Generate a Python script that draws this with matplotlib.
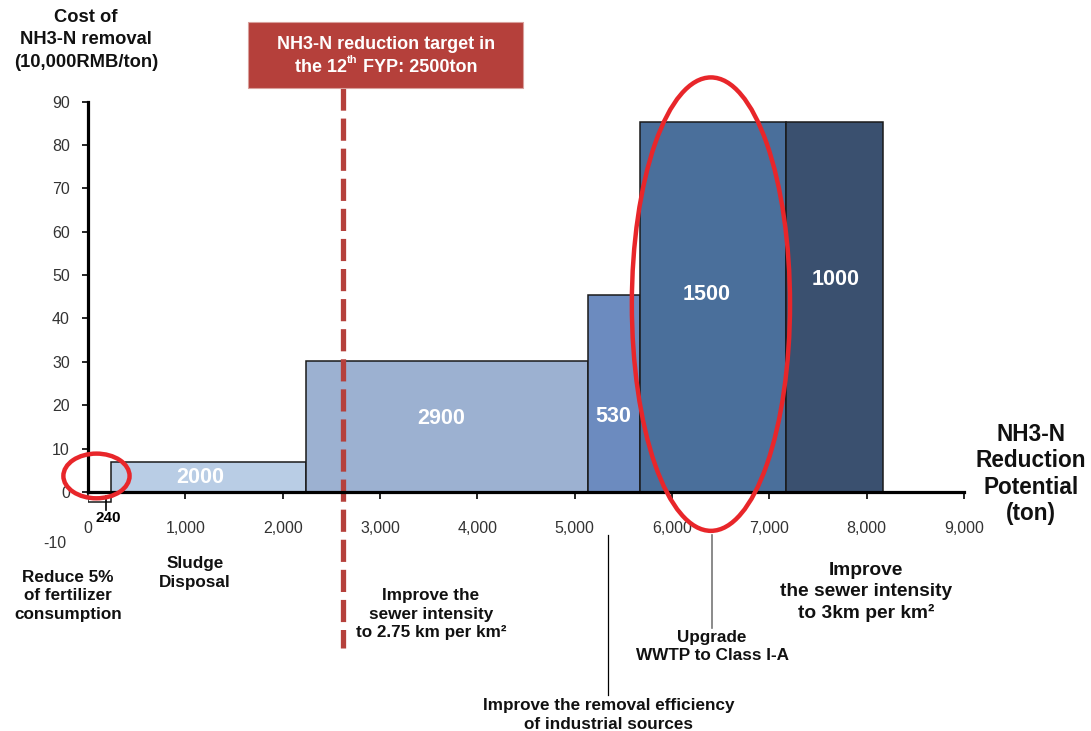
import matplotlib
matplotlib.use("Agg")
import matplotlib.pyplot as plt
from matplotlib.patches import Rectangle, Ellipse
import numpy as np

plt.rcParams['font.family'] = ['Liberation Sans', 'DejaVu Sans']

# ---- data ----
widths = [240, 2000, 2900, 530, 1500, 1000]          # reduction potential (ton)
costs = [-2.2, 6.9, 30.2, 45.3, 85.3, 85.3]           # cost (10,000 RMB/ton)
bar_labels = ["240", "2000", "2900", "530", "1500", "1000"]
xticks = [0, 1000, 2000, 3000, 4000, 5000, 6000, 7000, 8000, 9000]
xticklabels = ["0", "1,000", "2,000", "3,000", "4,000", "5,000", "6,000", "7,000", "8,000", "9,000"]
yticks = [0, 10, 20, 30, 40, 50, 60, 70, 80, 90]
target_x = 2620

# ---- style / layout ----
colors = ["white", "#b9cde5", "#9cb1d1", "#6c8bbf", "#4a6f9b", "#3a506f"]
label_x = [None, 1151, 3630, 5395, 6360, 7685]
label_y = [None, 3.4, 17.0, 17.3, 45.6, 49.0]

W, H = 1091, 731
fig = plt.figure(figsize=(W / 100, H / 100), dpi=100)

def fx(px):
    return px / W

def fy(py):
    return 1 - py / H

ax = fig.add_axes([fx(88), fy(535.4), fx(964) - fx(88), fy(101.5) - fy(535.4)])
ax.set_xlim(0, 9000)
ax.set_ylim(-10, 90)

lefts = np.concatenate([[0], np.cumsum(widths)[:-1]])
ax.bar(lefts, costs, width=widths, align='edge', color=colors,
       edgecolor='#1a1a1a', linewidth=1.1, zorder=2)

for i in range(1, len(widths)):
    ax.text(label_x[i], label_y[i], bar_labels[i], color='white',
            fontsize=15.5, fontweight='bold', ha='center', va='center', zorder=4)

# 240 label with leader
ax.plot([190, 190], [-1, -4.2], color='black', lw=1.2, zorder=3)
fig.text(fx(108), fy(518), bar_labels[0], fontsize=11, fontweight='bold',
         ha='center', va='center')

# spines
for s in ['top', 'right']:
    ax.spines[s].set_visible(False)
ax.spines['bottom'].set_position(('data', 0))
ax.spines['bottom'].set_bounds(0, 9000)
ax.spines['left'].set_bounds(0, 90)
ax.spines['bottom'].set_linewidth(2.3)
ax.spines['left'].set_linewidth(2.3)
ax.spines['bottom'].set_zorder(5)
ax.spines['left'].set_zorder(5)

ax.set_xticks(xticks)
ax.set_xticklabels(xticklabels)
ax.set_yticks(yticks)
ax.set_yticklabels([str(v) for v in yticks])
ax.tick_params(axis='x', direction='out', length=5, width=1.2, pad=16,
               labelsize=11.5, labelcolor='#333333')
ax.tick_params(axis='y', direction='out', length=4, width=1.2, pad=9,
               labelsize=11.5, labelcolor='#333333')
fig.text(fx(66), fy(543), "-10", fontsize=11.5, color='#333333', ha='right', va='center')

# target dashed line
ax.plot([target_x, target_x], [93.1, -36], color='#b5403b', lw=3.8,
        dashes=(4.2, 1.5), clip_on=False, zorder=3)

# ellipses
ax.add_patch(Ellipse((6400, 43.3), 1625, 104.5, fill=False, edgecolor='#e8262a',
                     lw=3.2, clip_on=False, zorder=6))
ax.add_patch(Ellipse((87, 3.7), 680, 10.3, fill=False, edgecolor='#e8262a',
                     lw=3.2, clip_on=False, zorder=6))

# annotation leader lines
ax.plot([5343, 5343], [-10, -46.8], color='black', lw=0.9, clip_on=False)
ax.plot([6411, 6411], [-10, -31.3], color='#777777', lw=1.2, clip_on=False)

# red box title
fig.patches.append(Rectangle((fx(248), fy(88)), fx(523) - fx(248), fy(22) - fy(88),
                             transform=fig.transFigure, facecolor='#b5403b',
                             edgecolor='#d9a09c', lw=0.8))
tb = dict(color='white', fontweight='bold', va='baseline')
fig.text(fx(386), fy(49), "NH3-N reduction target in", fontsize=13, ha='center', **tb)
# second line with small superscript
renderer = fig.canvas.get_renderer()
parts = [("the 12", 13, 72), ("th", 8, 63), (" FYP: 2500ton", 13, 72)]
objs = [fig.text(0, fy(b), s, fontsize=f, ha='left', **tb) for s, f, b in parts]
ws = [o.get_window_extent(renderer).width for o in objs]
x0 = 386 - sum(ws) / 2
for o, w in zip(objs, ws):
    o.set_x(fx(x0))
    x0 += w

bold = dict(fontweight='bold', ha='center', va='center', color='#111111')
fig.text(fx(86), fy(40), "Cost of\nNH3-N removal\n(10,000RMB/ton)", fontsize=13.2,
         linespacing=1.4, **bold)
fig.text(fx(1031), fy(474), "NH3-N\nReduction\nPotential\n(ton)", fontsize=16.3,
         linespacing=1.17, **bold)
fig.text(fx(68), fy(596), "Reduce 5%\nof fertilizer\nconsumption", fontsize=12.3,
         linespacing=1.3, **bold)
fig.text(fx(195), fy(573), "Sludge\nDisposal", fontsize=12.3, linespacing=1.35, **bold)
fig.text(fx(431), fy(614), "Improve the\nsewer intensity\nto 2.75 km per km²",
         fontsize=12.3, linespacing=1.3, **bold)
fig.text(fx(609), fy(715), "Improve the removal efficiency\nof industrial sources",
         fontsize=12.3, linespacing=1.28, **bold)
fig.text(fx(712), fy(646.5), "Upgrade\nWWTP to Class I-A", fontsize=12.3,
         linespacing=1.3, **bold)
fig.text(fx(866), fy(592), "Improve\nthe sewer intensity\nto 3km per km²",
         fontsize=13.8, linespacing=1.33, **bold)

fig.savefig("out.png", dpi=100)
